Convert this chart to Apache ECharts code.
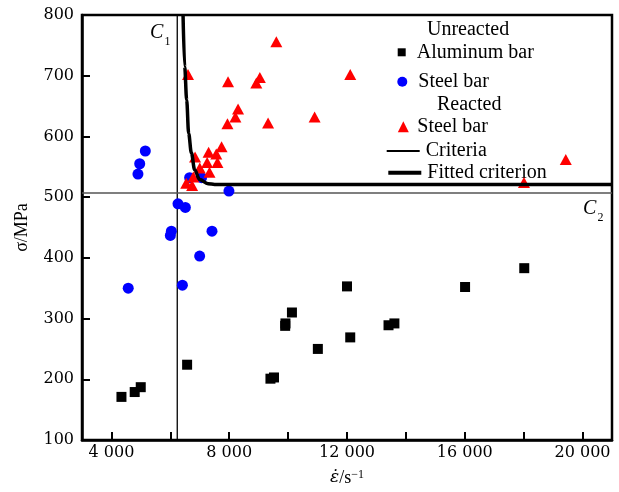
<!DOCTYPE html>
<html>
<head>
<meta charset="utf-8">
<script src="https://cdn.jsdelivr.net/npm/echarts@6/dist/echarts.min.js"></script>
<style>html,body{margin:0;padding:0;background:#fff}#c{width:619px;height:492px}</style>
</head>
<body>
<div id="c"></div>
<script>
// ---- data ----
const xTickLabels = [4000, 8000, 12000, 16000, 20000];
const xTicks = [4000, 6000, 8000, 10000, 12000, 14000, 16000, 18000, 20000];
const yTickLabels = [100, 200, 300, 400, 500, 600, 700, 800];

const aluminumUnreacted = [
  [4340, 171], [4790, 179], [4995, 187], [6570, 224], [9400, 201], [9520, 203],
  [9900, 288], [9910, 292], [10130, 310], [11010, 250], [12000, 353], [12110, 269],
  [13410, 289], [13610, 292], [16010, 352], [18020, 383]
];
const steelUnreacted = [
  [4570, 350], [4900, 538], [4960, 555], [5150, 576], [6000, 437], [6035, 444],
  [6260, 489], [6410, 355], [6510, 483], [6655, 532], [6996, 403], [7060, 532],
  [7415, 444], [7990, 510]
];
const steelReacted = [
  [9600, 756], [6600, 702], [7960, 690], [9040, 697], [8920, 688], [12110, 702],
  [8300, 645], [8210, 632], [7940, 621], [9320, 622], [10900, 632], [18010, 524],
  [19430, 562],
  [7740, 583], [7300, 574], [7560, 571], [6840, 566], [7600, 557], [7250, 557],
  [7000, 548], [7330, 541], [6780, 533], [6540, 523], [6740, 519]
];
const criteriaVertical = [[6235, 100], [6235, 800]];
const criteriaHorizontal = [[3000, 507], [21000, 507]];
const fittedCriterion = [
  [6432, 800], [6487, 715], [6555, 660], [6622, 605], [6714, 573], [6826, 545],
  [6995, 529], [7280, 522], [7504, 521], [21000, 521]
];

// ---- chart ----
const serif = '"Liberation Serif", "Times New Roman", serif';
const numFont = '"DejaVu Serif", serif';
const fmtNum = v => String(v).replace(/\B(?=(\d{3})+(?!\d))/g, ' ');

const chart = echarts.init(document.getElementById('c'), null, {renderer: 'canvas'});
const legendText = pad => ({fontFamily: serif, fontSize: 20, color: '#000', padding: [0, 0, 0, pad]});
const legendBase = {orient: 'vertical', padding: 0, itemGap: 0, selectedMode: false};
chart.setOption({
  animation: false,
  backgroundColor: '#fff',
  grid: {left: 82, right: 7, top: 15, bottom: 50.5, show: true, borderWidth: 2.5, borderColor: '#000', backgroundColor: 'transparent'},
  xAxis: {
    type: 'value', min: 3000, max: 21000, interval: 1000,
    name: '{e|ε̇}/s{sup|−1}', nameLocation: 'middle', nameGap: 29,
    nameTextStyle: {
      fontFamily: serif, fontSize: 18, color: '#000',
      rich: {
        e: {fontFamily: '"DejaVu Serif", serif', fontStyle: 'italic', fontSize: 17, color: '#000'},
        sup: {fontFamily: serif, fontSize: 12, verticalAlign: 'top', color: '#000'}
      }
    },
    axisLine: {show: true, onZero: false, lineStyle: {color: '#000', width: 2.5}},
    axisTick: {show: true, inside: true, length: 8, customValues: xTicks, lineStyle: {color: '#000', width: 2}},
    axisLabel: {
      margin: 5, fontFamily: numFont, fontSize: 16, color: '#000',
      customValues: xTickLabels,
      formatter: v => fmtNum(v)
    },
    splitLine: {show: false}
  },
  yAxis: {
    type: 'value', min: 100, max: 800, interval: 100,
    name: 'σ/MPa', nameLocation: 'middle', nameGap: 51, nameRotate: 90,
    nameTextStyle: {fontFamily: serif, fontSize: 18, color: '#000'},
    axisLine: {show: true, onZero: false, lineStyle: {color: '#000', width: 2.5}},
    axisTick: {show: true, inside: true, length: 8, lineStyle: {color: '#000', width: 2}},
    axisLabel: {
      margin: 8, fontFamily: numFont, fontSize: 16, color: '#000',
      customValues: yTickLabels,
      formatter: v => String(v)
    },
    splitLine: {show: false}
  },
  legend: [
    Object.assign({}, legendBase, {data: [{name: 'Aluminum bar', icon: 'rect'}], left: 397.7, top: 42.3, itemWidth: 8, itemHeight: 8, textStyle: legendText(6)}),
    Object.assign({}, legendBase, {data: [{name: 'Steel bar (unreacted)', icon: 'circle'}], left: 397.3, top: 71.7, itemWidth: 10, itemHeight: 10, textStyle: legendText(6), formatter: () => 'Steel bar'}),
    Object.assign({}, legendBase, {data: [{name: 'Steel bar (reacted)', icon: 'triangle'}], left: 397.8, top: 116.7, itemWidth: 11, itemHeight: 11, textStyle: legendText(3.5), formatter: () => 'Steel bar'}),
    Object.assign({}, legendBase, {data: [{name: 'Criteria', icon: 'rect'}], left: 386.7, top: 141, itemWidth: 33, itemHeight: 1.8, textStyle: legendText(1)}),
    Object.assign({}, legendBase, {data: [{name: 'Fitted criterion', icon: 'rect'}], left: 388.3, top: 162.7, itemWidth: 33, itemHeight: 4, textStyle: legendText(1)})
  ],
  graphic: [
    {type: 'text', x: 427, y: 30, style: {text: 'Unreacted', font: '20px ' + serif, fill: '#000', verticalAlign: 'middle'}},
    {type: 'text', x: 437, y: 105, style: {text: 'Reacted', font: '20px ' + serif, fill: '#000', verticalAlign: 'middle'}},
    {type: 'text', x: 150, y: 33, style: {text: 'C', font: 'italic 20px ' + serif, fill: '#000', verticalAlign: 'middle'}},
    {type: 'text', x: 164.5, y: 41.5, style: {text: '1', font: '12px ' + serif, fill: '#000', verticalAlign: 'middle'}},
    {type: 'text', x: 583, y: 209, style: {text: 'C', font: 'italic 20px ' + serif, fill: '#000', verticalAlign: 'middle'}},
    {type: 'text', x: 597.5, y: 217.5, style: {text: '2', font: '12px ' + serif, fill: '#000', verticalAlign: 'middle'}}
  ],
  series: [
    {name: 'Criteria', type: 'line', data: criteriaVertical, symbol: 'none', z: 1,
     lineStyle: {color: '#000', width: 1.3}, itemStyle: {color: '#000'}},
    {name: 'Criteria', type: 'line', data: criteriaHorizontal, symbol: 'none', z: 1,
     lineStyle: {color: '#555', width: 1.5}, itemStyle: {color: '#000'}},
    {name: 'Aluminum bar', type: 'scatter', data: aluminumUnreacted, symbol: 'rect', symbolSize: 10, z: 3,
     itemStyle: {color: '#000', opacity: 1}},
    {name: 'Steel bar (unreacted)', type: 'scatter', data: steelUnreacted, symbol: 'circle', symbolSize: 11, z: 3,
     itemStyle: {color: '#0000ff', opacity: 1}},
    {name: 'Steel bar (reacted)', type: 'scatter', data: steelReacted, symbol: 'triangle', symbolSize: [12, 11], z: 4,
     itemStyle: {color: '#ff0000', opacity: 1}},
    {name: 'Fitted criterion', type: 'line', data: fittedCriterion, symbol: 'none', smooth: 0.35, smoothMonotone: 'x', z: 5,
     lineStyle: {color: '#000', width: 3.5}, itemStyle: {color: '#000'}}
  ]
});
</script>
</body>
</html>
